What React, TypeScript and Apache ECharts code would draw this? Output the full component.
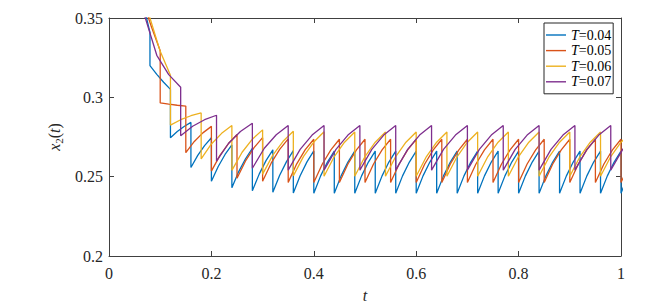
import React, { useEffect, useRef } from "react";
import * as echarts from "echarts";

// Impulse periods T of the four curves (legend labels)
const SERIES_NAMES = ["T=0.04", "T=0.05", "T=0.06", "T=0.07"];
const PERIODS = [0.04, 0.05, 0.06, 0.07];
const COLORS = ["#0072BD", "#D95319", "#EDB120", "#7E2F8E"];

// Each row: x2 values read at the start (just after the impulse), 1/3, 2/3 and end
// (just before the next impulse) of one impulse period, starting with period k = 1 (t = T).
const blueRows = [
  [0.4, 0.378, 0.359, 0.341],
  [0.32, 0.3145, 0.3095, 0.305],
  [0.2745, 0.2785, 0.2816, 0.2842],
  [0.2558, 0.2634, 0.2696, 0.2745],
  [0.2471, 0.2564, 0.264, 0.27],
  [0.243, 0.2532, 0.2613, 0.2679],
  [0.2411, 0.2516, 0.2601, 0.2669],
  [0.2402, 0.2509, 0.2595, 0.2664],
  [0.2397, 0.2506, 0.2593, 0.2662],
  [0.2396, 0.2505, 0.2592, 0.2661],
  [0.2396, 0.2505, 0.2592, 0.2661],
  [0.2395, 0.2505, 0.2592, 0.2661],
  [0.2395, 0.2505, 0.2592, 0.2661],
  [0.2395, 0.2505, 0.2592, 0.2661],
  [0.2395, 0.2505, 0.2592, 0.2661],
  [0.2395, 0.2505, 0.2592, 0.2661],
  [0.2395, 0.2505, 0.2592, 0.2661],
  [0.2395, 0.2505, 0.2592, 0.2661],
  [0.2395, 0.2505, 0.2592, 0.2661],
  [0.2395, 0.2505, 0.2592, 0.2661],
  [0.2395, 0.2505, 0.2592, 0.2661],
  [0.2395, 0.2505, 0.2592, 0.2661],
  [0.2395, 0.2505, 0.2592, 0.2661],
  [0.2395, 0.2505, 0.2592, 0.2661],
  [0.2395, 0.2505, 0.2592, 0.2661],
];

const redRows = [
  [0.378, 0.36, 0.344, 0.3293],
  [0.2965, 0.2957, 0.295, 0.2945],
  [0.2651, 0.2722, 0.2776, 0.2817],
  [0.2535, 0.2634, 0.2709, 0.2766],
  [0.249, 0.2599, 0.2683, 0.2746],
  [0.2471, 0.2585, 0.2672, 0.2738],
  [0.2464, 0.2581, 0.267, 0.2736],
  [0.2463, 0.258, 0.2669, 0.2736],
  [0.2463, 0.258, 0.2669, 0.2736],
  [0.2463, 0.258, 0.2669, 0.2736],
  [0.2463, 0.258, 0.2669, 0.2736],
  [0.2463, 0.258, 0.2669, 0.2736],
  [0.2463, 0.258, 0.2669, 0.2736],
  [0.2463, 0.258, 0.2669, 0.2736],
  [0.2463, 0.258, 0.2669, 0.2736],
  [0.2463, 0.258, 0.2669, 0.2736],
  [0.2463, 0.258, 0.2669, 0.2736],
  [0.2463, 0.258, 0.2669, 0.2736],
  [0.2463, 0.258, 0.2669, 0.2736],
  [0.2463, 0.258, 0.2669, 0.2736],
];

const yellowRows = [
  [0.373, 0.35, 0.329, 0.3139],
  [0.2825, 0.2859, 0.2884, 0.2902],
  [0.2612, 0.2706, 0.2773, 0.2822],
  [0.254, 0.2654, 0.2736, 0.2795],
  [0.2516, 0.2636, 0.2723, 0.2786],
  [0.2505, 0.2628, 0.2718, 0.2783],
  [0.2503, 0.2627, 0.2717, 0.2782],
  [0.2503, 0.2627, 0.2717, 0.2782],
  [0.2503, 0.2627, 0.2717, 0.2782],
  [0.2503, 0.2627, 0.2717, 0.2782],
  [0.2503, 0.2627, 0.2717, 0.2782],
  [0.2503, 0.2627, 0.2717, 0.2782],
  [0.2503, 0.2627, 0.2717, 0.2782],
  [0.2503, 0.2627, 0.2717, 0.2782],
  [0.2503, 0.2627, 0.2717, 0.2782],
  [0.2503, 0.2627, 0.2717, 0.2782],
];

const purpleRows = [
  [0.351, 0.3265, 0.3143, 0.3064],
  [0.2758, 0.2818, 0.2859, 0.2887],
  [0.2598, 0.2709, 0.2785, 0.2837],
  [0.2553, 0.2679, 0.2764, 0.2823],
  [0.2541, 0.2672, 0.2762, 0.2823],
  [0.2541, 0.2672, 0.2762, 0.2823],
  [0.2541, 0.2672, 0.2762, 0.2823],
  [0.2541, 0.2672, 0.2762, 0.2823],
  [0.2541, 0.2672, 0.2762, 0.2823],
  [0.2541, 0.2672, 0.2762, 0.2823],
  [0.2541, 0.2672, 0.2762, 0.2823],
  [0.2541, 0.2672, 0.2762, 0.2823],
  [0.2541, 0.2672, 0.2762, 0.2823],
  [0.2541, 0.2672, 0.2762, 0.2823],
];

const X_TICKS = { min: 0, max: 1, interval: 0.2 };
const Y_TICKS = { min: 0.2, max: 0.35, interval: 0.05 };

const ALL_ROWS = [blueRows, redRows, yellowRows, purpleRows];

function buildPoints(T: number, rows: number[][]): [number, number][] {
  const pts: [number, number][] = [];
  rows.forEach((row, i) => {
    const k = i + 1;
    row.forEach((v, j) => {
      pts.push([k * T + (j * T) / (row.length - 1), v]);
    });
  });
  return pts;
}

const FONT = "Liberation Serif";
const AX = "#404040";
const TXT = "#262626";

export default function App() {
  const ref = useRef<HTMLDivElement>(null);

  useEffect(() => {
    if (!ref.current) return;
    const chart = echarts.init(ref.current, undefined, { renderer: "svg" });

    const axisCommon = {
      type: "value" as const,
      axisLine: { show: true, onZero: false, lineStyle: { color: AX, width: 1 } },
      axisTick: { show: true, inside: true, length: 5, lineStyle: { color: AX, width: 1 } },
      splitLine: { show: false },
    };

    const fmt = (v: number) => String(Math.round(v * 100) / 100);

    const option: any = {
      animation: false,
      backgroundColor: "#ffffff",
      grid: { left: 109, right: 37, top: 18, bottom: 46, containLabel: false },
      legend: {
        orient: "vertical",
        left: 544,
        top: 23,
        padding: [5, 2, 5, 2],
        itemGap: 1.6,
        itemWidth: 20,
        itemHeight: 1.4,
        icon: "rect",
        borderColor: "#262626",
        borderWidth: 1,
        borderRadius: 0,
        backgroundColor: "#ffffff",
        data: SERIES_NAMES,
        formatter: (name: string) => `{i|T}${name.slice(1)}`,
        textStyle: {
          fontFamily: FONT,
          fontSize: 14,
          color: "#000",
          lineHeight: 14,
          rich: {
            i: { fontFamily: FONT, fontSize: 14, fontStyle: "italic", color: "#000", lineHeight: 14 },
          },
        },
      },
      xAxis: [
        {
          ...axisCommon,
          ...X_TICKS,
          position: "bottom",
          axisLabel: { margin: 9, fontFamily: FONT, fontSize: 16, color: TXT, formatter: fmt },
          name: "t",
          nameLocation: "middle",
          nameGap: 31,
          nameTextStyle: { fontFamily: FONT, fontSize: 16, fontStyle: "italic", color: TXT },
        },
        {
          ...axisCommon,
          ...X_TICKS,
          position: "top",
          axisLabel: { show: false },
        },
      ],
      yAxis: [
        {
          ...axisCommon,
          ...Y_TICKS,
          position: "left",
          axisLabel: { margin: 6, fontFamily: FONT, fontSize: 16, color: TXT, formatter: fmt },
          name: "{i|x}{s|2}{n|(}{i|t}{n|)}",
          nameLocation: "middle",
          nameGap: 40,
          nameTextStyle: {
            fontFamily: FONT,
            fontSize: 16,
            color: TXT,
            rich: {
              i: { fontFamily: FONT, fontSize: 16, fontStyle: "italic", color: TXT, lineHeight: 20, verticalAlign: "middle" },
              n: { fontFamily: FONT, fontSize: 16, color: TXT, lineHeight: 20, verticalAlign: "middle" },
              s: { fontFamily: FONT, fontSize: 11, color: TXT, lineHeight: 11, verticalAlign: "bottom" },
            },
          },
        },
        {
          ...axisCommon,
          ...Y_TICKS,
          position: "right",
          axisLabel: { show: false },
        },
      ],
      series: ALL_ROWS.map((rows, i) => ({
        name: SERIES_NAMES[i],
        type: "line",
        xAxisIndex: 0,
        yAxisIndex: 0,
        data: buildPoints(PERIODS[i], rows),
        symbol: "none",
        showSymbol: false,
        clip: true,
        color: COLORS[i],
        lineStyle: { color: COLORS[i], width: 1.3 },
      })),
    };

    chart.setOption(option);
    return () => {
      chart.dispose();
    };
  }, []);

  return (
    <div
      ref={ref}
      style={{ position: "absolute", left: 0, top: 0, width: 658, height: 308, background: "#fff" }}
    />
  );
}
